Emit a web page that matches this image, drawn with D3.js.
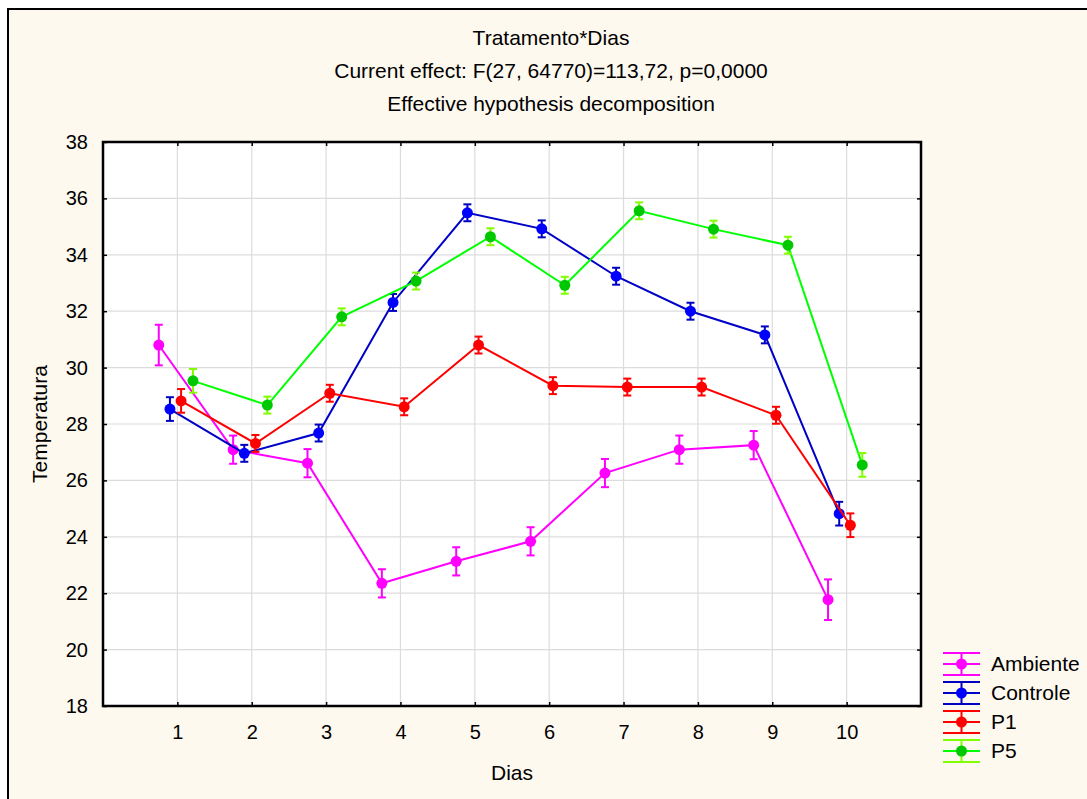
<!DOCTYPE html>
<html>
<head>
<meta charset="utf-8">
<script src="https://cdn.jsdelivr.net/npm/d3@7/dist/d3.min.js"></script>
<style>
  body { margin: 0; background: #ffffff; }
  text { font-family: "Liberation Sans", Arial, sans-serif; fill: #000; }
</style>
</head>
<body>
<script>
// Mean temperature per treatment and day, with error-bar half widths
const days = [1, 2, 3, 4, 5, 6, 7, 8, 9, 10];
const yTicks = [18, 20, 22, 24, 26, 28, 30, 32, 34, 36, 38];

const ambiente    = [30.80, 27.09, 26.61, 22.35, 23.13, 23.84, 26.26, 27.09, 27.25, 21.77];
const ambienteErr = [0.72, 0.50, 0.50, 0.50, 0.50, 0.50, 0.50, 0.50, 0.50, 0.72];
const controle    = [28.53, 26.96, 27.68, 32.31, 35.49, 34.92, 33.24, 32.00, 31.16, 24.82];
const controleErr = [0.42, 0.30, 0.30, 0.30, 0.30, 0.30, 0.30, 0.30, 0.30, 0.42];
const p1          = [28.82, 27.31, 29.09, 28.61, 30.80, 29.36, 29.31, 29.31, 28.31, 24.41];
const p1Err       = [0.42, 0.30, 0.30, 0.30, 0.30, 0.30, 0.30, 0.30, 0.30, 0.42];
const p5          = [29.53, 28.67, 31.80, 33.07, 34.64, 32.92, 35.56, 34.91, 34.34, 26.55];
const p5Err       = [0.42, 0.30, 0.30, 0.30, 0.30, 0.30, 0.30, 0.30, 0.30, 0.42];

const seriesNames = ["Ambiente", "Controle", "P1", "P5"];
const seriesValues = [ambiente, controle, p1, p5];
const seriesErrors = [ambienteErr, controleErr, p1Err, p5Err];
const seriesShift = [-0.25, -0.10, 0.05, 0.21];   // horizontal dodge, in day units
const lineColors   = ["#ff00ff", "#0000c8", "#ff0000", "#00ff00"];
const markerColors = ["#ff00ff", "#0000ff", "#ff0000", "#00c800"];
const errColors    = ["#ff00ff", "#0000c0", "#ff0000", "#80ff00"];

const titleLines = [
  "Tratamento*Dias",
  "Current effect: F(27, 64770)=113,72, p=0,0000",
  "Effective hypothesis decomposition"
];

const W = 1087, H = 799;
const plot = { left: 103, right: 921, top: 142, bottom: 706 };

const svg = d3.select("body").append("svg")
  .attr("width", W).attr("height", H);

// page panel
svg.append("rect")
  .attr("x", 8).attr("y", 9).attr("width", W + 10).attr("height", H + 10)
  .attr("fill", "#fef9ef").attr("stroke", "#000").attr("stroke-width", 2);

const x = d3.scaleLinear().domain([0, 11]).range([plot.left, plot.right]);
const y = d3.scaleLinear().domain([18, 38]).range([plot.bottom, plot.top]);

// plot background
svg.append("rect")
  .attr("x", plot.left).attr("y", plot.top)
  .attr("width", plot.right - plot.left).attr("height", plot.bottom - plot.top)
  .attr("fill", "#fff");

// grid
const grid = svg.append("g").attr("stroke", "#dcdcdc").attr("stroke-width", 1.2);
grid.selectAll("line.v").data(days).join("line")
  .attr("x1", d => x(d)).attr("x2", d => x(d))
  .attr("y1", plot.top).attr("y2", plot.bottom);
grid.selectAll("line.h").data(yTicks.slice(1, -1)).join("line")
  .attr("x1", plot.left).attr("x2", plot.right)
  .attr("y1", d => y(d)).attr("y2", d => y(d));

// axes with inward ticks on all four sides
const axisFont = g => g.selectAll("text")
  .style("font-family", '"Liberation Sans", Arial, sans-serif')
  .style("font-size", "20px").attr("fill", "#000");
const axisStyle = g => {
  g.select(".domain").remove();
  g.selectAll(".tick line").attr("stroke", "#000").attr("stroke-width", 1.5);
};

svg.append("g").attr("transform", `translate(0,${plot.bottom})`)
  .call(d3.axisBottom(x).tickValues(days).tickFormat(d3.format("d")).tickSizeInner(-4).tickPadding(19))
  .call(axisStyle).call(axisFont);
svg.append("g").attr("transform", `translate(0,${plot.top})`)
  .call(d3.axisTop(x).tickValues(days).tickSizeInner(-4).tickFormat(""))
  .call(axisStyle);
svg.append("g").attr("transform", `translate(${plot.left},0)`)
  .call(d3.axisLeft(y).tickValues(yTicks).tickFormat(d3.format("d")).tickSizeInner(-4).tickPadding(15))
  .call(axisStyle).call(axisFont);
svg.append("g").attr("transform", `translate(${plot.right},0)`)
  .call(d3.axisRight(y).tickValues(yTicks).tickSizeInner(-4).tickFormat(""))
  .call(axisStyle);

// frame
svg.append("rect")
  .attr("x", plot.left).attr("y", plot.top)
  .attr("width", plot.right - plot.left).attr("height", plot.bottom - plot.top)
  .attr("fill", "none").attr("stroke", "#000").attr("stroke-width", 2.5);

// series
const line = d3.line().x(d => x(d.day + d.shift)).y(d => y(d.value));
seriesNames.forEach((name, i) => {
  const pts = days.map((d, j) => ({
    day: d, shift: seriesShift[i], value: seriesValues[i][j], err: seriesErrors[i][j]
  }));
  const g = svg.append("g").attr("class", "series-" + name);
  g.append("path").datum(pts)
    .attr("d", line).attr("fill", "none")
    .attr("stroke", lineColors[i]).attr("stroke-width", 2);
  const eb = g.append("g").attr("stroke", errColors[i]).attr("stroke-width", 2);
  eb.selectAll("line.bar").data(pts).join("line")
    .attr("x1", d => x(d.day + d.shift)).attr("x2", d => x(d.day + d.shift))
    .attr("y1", d => y(d.value - d.err)).attr("y2", d => y(d.value + d.err));
  [-1, 1].forEach(s => {
    eb.selectAll("line.cap" + s).data(pts).join("line")
      .attr("x1", d => x(d.day + d.shift) - 4).attr("x2", d => x(d.day + d.shift) + 4)
      .attr("y1", d => y(d.value + s * d.err)).attr("y2", d => y(d.value + s * d.err));
  });
  g.selectAll("circle").data(pts).join("circle")
    .attr("cx", d => x(d.day + d.shift)).attr("cy", d => y(d.value))
    .attr("r", 5.5).attr("fill", markerColors[i]);
});

// titles
svg.append("g").selectAll("text").data(titleLines).join("text")
  .attr("x", 551).attr("y", (d, i) => 45 + i * 33)
  .attr("text-anchor", "middle").style("font-size", "21px")
  .text(d => d);

// axis titles
svg.append("text").attr("x", (plot.left + plot.right) / 2).attr("y", 780)
  .attr("text-anchor", "middle").style("font-size", "21px").text("Dias");
svg.append("text")
  .attr("transform", `translate(47,${(plot.top + plot.bottom) / 2}) rotate(-90)`)
  .attr("text-anchor", "middle").style("font-size", "21px").text("Temperatura");

// legend
const legend = svg.append("g");
seriesNames.forEach((name, i) => {
  const cy = 664 + i * 29;
  const g = legend.append("g");
  g.append("line").attr("x1", 943).attr("x2", 980).attr("y1", cy).attr("y2", cy)
    .attr("stroke", lineColors[i]).attr("stroke-width", 2);
  const e = g.append("g").attr("stroke", errColors[i]).attr("stroke-width", 2);
  e.append("line").attr("x1", 961.5).attr("x2", 961.5).attr("y1", cy - 11).attr("y2", cy + 11);
  e.append("line").attr("x1", 943).attr("x2", 980).attr("y1", cy - 11).attr("y2", cy - 11);
  e.append("line").attr("x1", 943).attr("x2", 980).attr("y1", cy + 11).attr("y2", cy + 11);
  g.append("circle").attr("cx", 961.5).attr("cy", cy).attr("r", 5.5).attr("fill", markerColors[i]);
  g.append("text").attr("x", 991).attr("y", cy + 7).style("font-size", "21px").text(name);
});
</script>
</body>
</html>
